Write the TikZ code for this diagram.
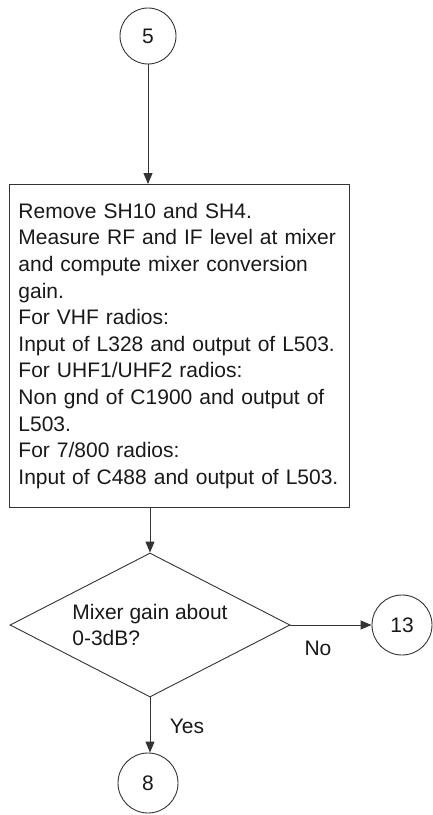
\documentclass[tikz,border=0pt]{standalone}
\usepackage{fontspec}
\setmainfont{Liberation Sans}
\usetikzlibrary{shapes.geometric,arrows.meta}
\begin{document}
\begin{tikzpicture}[x=1bp,y=-1bp,
  every node/.style={font=\fontsize{21bp}{26.6bp}\selectfont, text=black!90},
  conn/.style={draw=black!80, line width=0.9bp},
  arr/.style={conn, -{Triangle[length=11bp,width=9bp]}},
  conncircle/.style={circle, draw=black!80, line width=0.9bp, minimum size=56bp, inner sep=0pt},
  stepbox/.style={rectangle, draw=black!80, line width=0.9bp, text width=322bp, inner xsep=9bp, inner ysep=0pt, minimum height=323bp, align=left},
  decision/.style={diamond, draw=black!80, line width=0.9bp, minimum width=280bp, minimum height=144bp, inner sep=0pt, aspect=1.94, align=left}
]
\useasboundingbox (0,0) rectangle (432,815);
\node[conncircle] (c5) at (148,36) {5};
\node[stepbox, anchor=north west] (box) at (9,184) {Remove SH10 and SH4.\\
Measure RF and IF level at mixer\\
and compute mixer conversion\\
gain.\\
For VHF radios:\\
Input of L328 and output of L503.\\
For UHF1/UHF2 radios:\\
Non gnd of C1900 and output of\\
L503.\\
For 7/800 radios:\\
Input of C488 and output of L503.};
\node[decision] (dec) at (150,625) {Mixer gain about\\0-3dB?};
\node[conncircle, minimum size=60bp] (c13) at (402,625) {13};
\node[conncircle, minimum size=60bp] (c8) at (148,783) {8};
\node (no) at (318,648) {No};
\node (yes) at (187,726) {Yes};
\draw[arr] (c5) -- (c5 |- box.north);
\draw[arr] (dec.north |- box.south) -- (dec.north);
\draw[arr] (dec.east) -- (c13.west);
\draw[arr] (dec.south) -- (dec.south |- c8.north);
\end{tikzpicture}
\end{document}
